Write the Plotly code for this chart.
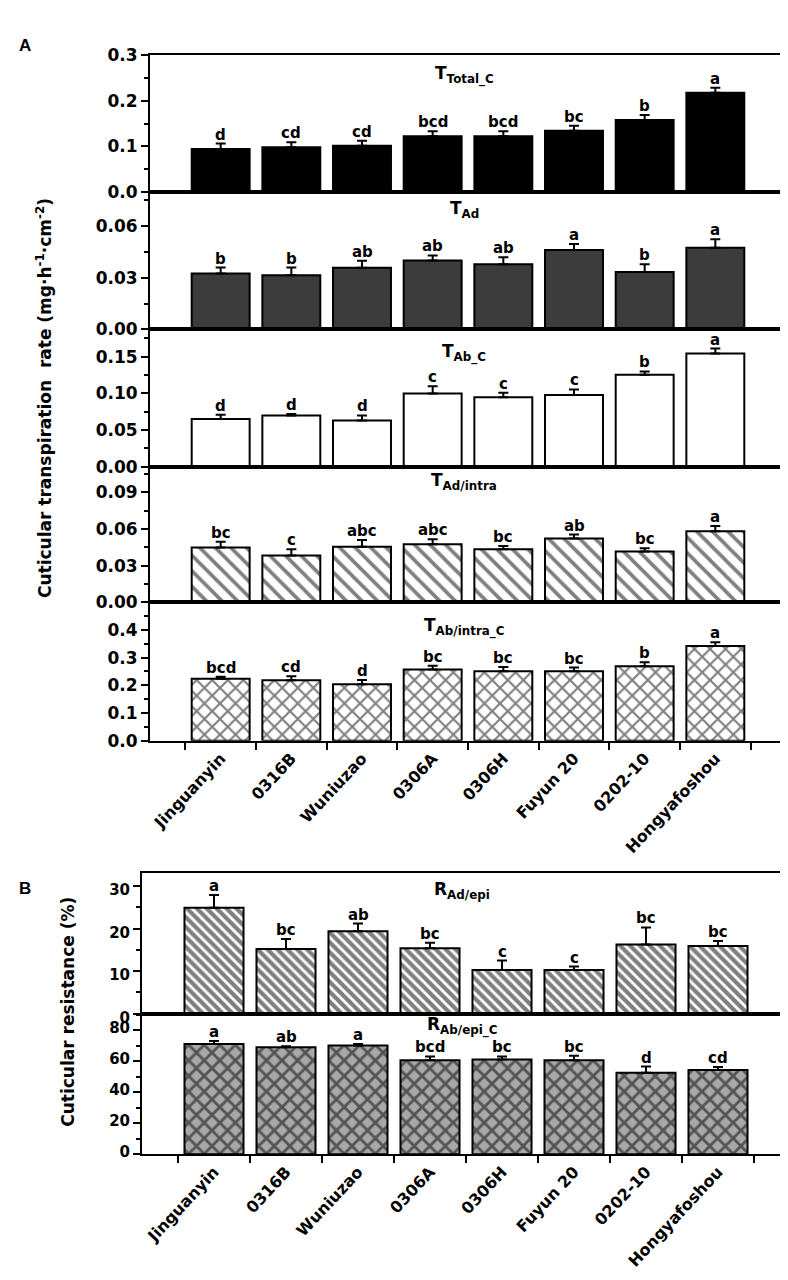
import plotly.graph_objects as go

W, H = 788, 1280

categories = ["Jinguanyin", "0316B", "Wuniuzao", "0306A", "0306H", "Fuyun 20", "0202-10", "Hongyafoshou"]

# Panel A
t_total_c = [0.094, 0.098, 0.101, 0.122, 0.122, 0.134, 0.158, 0.218]
t_total_c_err = [0.012, 0.011, 0.011, 0.011, 0.011, 0.011, 0.011, 0.011]
t_total_c_let = ["d", "cd", "cd", "bcd", "bcd", "bc", "b", "a"]

t_ad = [0.0325, 0.0315, 0.0358, 0.0400, 0.0378, 0.0462, 0.0334, 0.0474]
t_ad_err = [0.0034, 0.0044, 0.0041, 0.0030, 0.0042, 0.0034, 0.0044, 0.0050]
t_ad_let = ["b", "b", "ab", "ab", "ab", "a", "b", "a"]

t_ab_c = [0.065, 0.070, 0.063, 0.100, 0.095, 0.098, 0.1255, 0.1545]
t_ab_c_err = [0.006, 0.002, 0.007, 0.010, 0.006, 0.0075, 0.0045, 0.0067]
t_ab_c_let = ["d", "d", "d", "c", "c", "c", "b", "a"]

t_ad_intra = [0.0448, 0.0384, 0.0456, 0.0475, 0.0434, 0.0523, 0.0416, 0.0582]
t_ad_intra_err = [0.0048, 0.0050, 0.0054, 0.0042, 0.0027, 0.0032, 0.0027, 0.0043]
t_ad_intra_let = ["bc", "c", "abc", "abc", "bc", "ab", "bc", "a"]

t_ab_intra_c = [0.224, 0.218, 0.204, 0.257, 0.251, 0.251, 0.269, 0.342]
t_ab_intra_c_err = [0.007, 0.015, 0.015, 0.014, 0.015, 0.013, 0.014, 0.013]
t_ab_intra_c_let = ["bcd", "cd", "d", "bc", "bc", "bc", "b", "a"]

# Panel B
r_ad_epi = [24.9, 15.2, 19.4, 15.4, 10.3, 10.3, 16.3, 15.9]
r_ad_epi_err = [3.0, 2.4, 1.8, 1.3, 2.2, 0.8, 4.0, 1.2]
r_ad_epi_let = ["a", "bc", "ab", "bc", "c", "c", "bc", "bc"]

r_ab_epi_c = [71.0, 69.0, 70.0, 60.5, 61.0, 60.5, 52.5, 54.2]
r_ab_epi_c_err = [2.0, 0.5, 1.0, 2.5, 2.0, 3.0, 4.0, 2.0]
r_ab_epi_c_let = ["a", "ab", "a", "bcd", "bc", "bc", "d", "cd"]

FONT = "DejaVu Sans"

def fx(px):
    return px / W

def fy(py):
    return 1 - py / H

panels = [
    (t_total_c, t_total_c_err, t_total_c_let, "T<sub>Total_C</sub>", 38, 177, (142, 778), [0, 0.3], 0.1, 0.05, ".1f", "black", 58, 0, 17),
    (t_ad, t_ad_err, t_ad_let, "T<sub>Ad</sub>", 177, 317, (142, 778), [0, 0.08], 0.03, 0.015, ".2f", "dark", 195, 0, 17),
    (t_ab_c, t_ab_c_err, t_ab_c_let, "T<sub>Ab_C</sub>", 317, 457, (142, 778), [0, 0.1875], 0.05, 0.025, ".2f", "white", 341, 0, 17),
    (t_ad_intra, t_ad_intra_err, t_ad_intra_let, "T<sub>Ad/intra</sub>", 457, 595, (142, 778), [0, 0.111], 0.03, 0.015, ".2f", "hatch", 472, 0, 17),
    (t_ab_intra_c, t_ab_intra_c_err, t_ab_intra_c_let, "T<sub>Ab/intra_C</sub>", 595, 736, (142, 778), [0, 0.4995], 0.1, 0.05, ".1f", "cross", 620, 0, 17),
    (r_ad_epi, r_ad_epi_err, r_ad_epi_let, "R<sub>Ad/epi</sub>", 871, 1014, (134, 782), [0, 33], 10, 5, "d", "dense", 888, 4, 15),
    (r_ab_epi_c, r_ab_epi_c_err, r_ab_epi_c_let, "R<sub>Ab/epi_C</sub>", 1014, 1157, (134, 782), [0, 90.5], 20, 10, "d", "crossgrey", 1026, -2, 15),
]
bottom_idx = {4, 6}

fig = go.Figure()
layout = dict(width=W, height=H, margin=dict(l=0, r=0, t=0, b=0),
              paper_bgcolor="white", plot_bgcolor="white", showlegend=False,
              annotations=[])

for i, (vals, errs, lets, title, ptop, pbot, xdom, yr, dt, mn, fmt, style, ty, shift, tfs) in enumerate(panels):
    n = i + 1
    xa = "x" if n == 1 else f"x{n}"
    ya = "y" if n == 1 else f"y{n}"
    marker = dict(line=dict(color="black", width=2))
    if style == "black":
        marker["color"] = "black"
    elif style == "dark":
        marker["color"] = "#3c3c3c"
    elif style == "white":
        marker["color"] = "white"
    elif style == "hatch":
        marker["color"] = "white"
        marker["pattern"] = dict(shape="\\", fgcolor="black", bgcolor="white", size=11, solidity=0.33)
    elif style == "cross":
        marker["color"] = "white"
        marker["pattern"] = dict(shape="x", fgcolor="black", bgcolor="white", size=11, solidity=0.35)
    elif style == "dense":
        marker["color"] = "white"
        marker["pattern"] = dict(shape="\\", fgcolor="black", bgcolor="white", size=7, solidity=0.6)
    elif style == "crossgrey":
        marker["color"] = "#a8a8a8"
        marker["pattern"] = dict(shape="x", fgcolor="black", bgcolor="#a8a8a8", size=11, solidity=0.45)
    fig.add_trace(go.Bar(
        x=categories, y=vals, width=0.82, marker=marker, xaxis=xa, yaxis=ya,
        error_y=dict(type="data", array=errs, arrayminus=[0] * len(errs), symmetric=False,
                     color="black", thickness=2, width=5),
    ))
    xkey = "xaxis" if n == 1 else f"xaxis{n}"
    ykey = "yaxis" if n == 1 else f"yaxis{n}"
    xaxis = dict(domain=[fx(xdom[0]), fx(xdom[1])], anchor=ya, type="category",
                 categoryorder="array", categoryarray=categories, range=[-1, 8],
                 showline=True, mirror=True, linecolor="black", linewidth=2,
                 showgrid=False, zeroline=False, fixedrange=True)
    if i in bottom_idx:
        xaxis.update(ticks="outside", tickson="boundaries", ticklen=7, tickwidth=2,
                     tickcolor="black", tickangle=-47, showticklabels=True,
                     tickfont=dict(family=FONT, size=16, color="black", weight="bold"))
    else:
        xaxis.update(ticks="", showticklabels=False)
    layout[xkey] = xaxis
    layout[ykey] = dict(domain=[fy(pbot), fy(ptop)], anchor=xa, range=yr,
                        tick0=0, dtick=dt, tickformat=fmt, ticklabelshift=shift,
                        ticks="outside", ticklen=7, tickwidth=2, tickcolor="black",
                        minor=dict(dtick=mn, tick0=0, ticks="outside", ticklen=4, tickwidth=2, tickcolor="black"),
                        showline=True, mirror=True, linecolor="black", linewidth=2,
                        showgrid=False, zeroline=False,
                        tickfont=dict(family=FONT, size=tfs, color="black", weight="bold"))
    for c, v, e, l in zip(categories, vals, errs, lets):
        layout["annotations"].append(dict(
            x=c, y=v + e, xref=xa, yref=ya, text=l, showarrow=False,
            yanchor="bottom", yshift=-2,
            font=dict(family=FONT, size=15, color="black", weight="bold")))
    layout["annotations"].append(dict(
        x=3.45, y=fy(ty), xref=xa, yref="paper", text=title, showarrow=False,
        xanchor="center", yanchor="middle",
        font=dict(family=FONT, size=17, color="black", weight="bold")))

layout["annotations"].append(dict(
    x=fx(36), y=fy(387), xref="paper", yref="paper",
    text="Cuticular transpiration  rate (mg·h<sup>-1</sup>·cm<sup>-2</sup>)",
    showarrow=False, textangle=-90, xanchor="center", yanchor="middle",
    font=dict(family=FONT, size=17, color="black", weight="bold")))
layout["annotations"].append(dict(
    x=fx(60), y=fy(1012), xref="paper", yref="paper",
    text="Cuticular resistance (%)",
    showarrow=False, textangle=-90, xanchor="center", yanchor="middle",
    font=dict(family=FONT, size=17, color="black", weight="bold")))
layout["annotations"].append(dict(
    x=fx(17), y=fy(28), xref="paper", yref="paper", text="A", showarrow=False,
    xanchor="center", yanchor="middle",
    font=dict(family="Liberation Sans", size=17, color="black", weight="bold")))
layout["annotations"].append(dict(
    x=fx(17), y=fy(886), xref="paper", yref="paper", text="B", showarrow=False,
    xanchor="center", yanchor="middle",
    font=dict(family="Liberation Sans", size=17, color="black", weight="bold")))

fig.update_layout(**layout)
fig.write_html("out.html")
